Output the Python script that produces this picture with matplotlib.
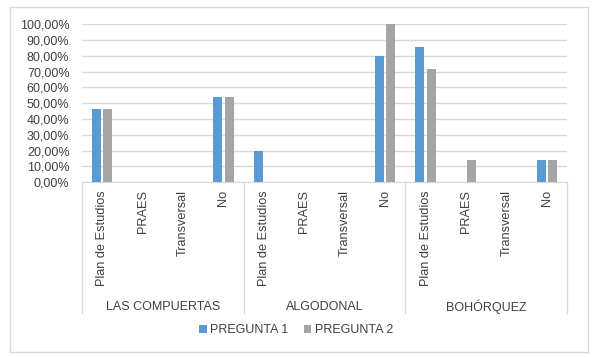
import matplotlib.pyplot as plt
import numpy as np
from matplotlib.lines import Line2D
from matplotlib.patches import Rectangle
from matplotlib.ticker import FuncFormatter

plt.rcParams["font.family"] = ["Liberation Sans", "DejaVu Sans"]

# data
groups = ["LAS COMPUERTAS", "ALGODONAL", "BOHÓRQUEZ"]
options = ["Plan de Estudios", "PRAES", "Transversal", "No"]
pregunta_1 = [46.15, 0, 0, 53.85, 20.0, 0, 0, 80.0, 85.71, 0, 0, 14.29]
pregunta_2 = [46.15, 0, 0, 53.85, 0, 0, 0, 100.0, 71.43, 14.29, 0, 14.29]

BLUE = "#5B9BD5"
GRAY = "#A5A5A5"
GRID = "#D9D9D9"
TEXT = "#404040"

fig = plt.figure(figsize=(5.92, 3.57), dpi=100)
ax = fig.add_axes([0.1385, 0.4894, 0.8193, 0.4426])

n = len(groups) * len(options)
x = np.arange(n)
w = 0.22
ax.bar(x - 0.14, pregunta_1, width=w, color=BLUE, label="PREGUNTA 1", zorder=3)
ax.bar(x + 0.14, pregunta_2, width=w, color=GRAY, label="PREGUNTA 2", zorder=3)

ax.set_xlim(-0.5, n - 0.5)
ax.set_ylim(0, 100)
ax.set_yticks(np.arange(0, 101, 10))
ax.yaxis.set_major_formatter(FuncFormatter(lambda v, _: f"{v:.2f}%".replace(".", ",")))
ax.tick_params(axis="y", length=0, pad=9, labelsize=9, labelcolor=TEXT)
ax.set_xticks([])
ax.grid(axis="y", color=GRID, linewidth=1, zorder=0)
for side in ["top", "right", "left"]:
    ax.spines[side].set_visible(False)
ax.spines["bottom"].set_color(GRID)

# category labels and group separators below the axis
trans = ax.get_xaxis_transform()
for i in range(n):
    ax.text(x[i], -0.05, options[i % len(options)], rotation=90, ha="center",
            va="top", fontsize=9.2, color=TEXT, transform=trans)
for g, name in enumerate(groups):
    center = g * len(options) + (len(options) - 1) / 2
    ax.text(center, -0.79, name, ha="center", va="center", fontsize=9,
            color=TEXT, transform=trans)
for b in range(len(groups) + 1):
    xb = b * len(options) - 0.5
    ax.add_line(Line2D([xb, xb], [0, -0.83], color=GRID, linewidth=1,
                       transform=trans, clip_on=False))

fig.legend(loc="center", bbox_to_anchor=(0.5, 1 - 330 / 357), ncol=2,
           frameon=False, fontsize=9, handlelength=0.6, handleheight=0.6,
           handletextpad=0.3, columnspacing=1.2, labelcolor=TEXT)

# outer chart frame
fig.patches.append(Rectangle((10 / 592, 1 - 352 / 357), 578 / 592, 345 / 357,
                             transform=fig.transFigure, fill=False,
                             edgecolor=GRID, linewidth=1))

fig.savefig("out.png", dpi=100)
